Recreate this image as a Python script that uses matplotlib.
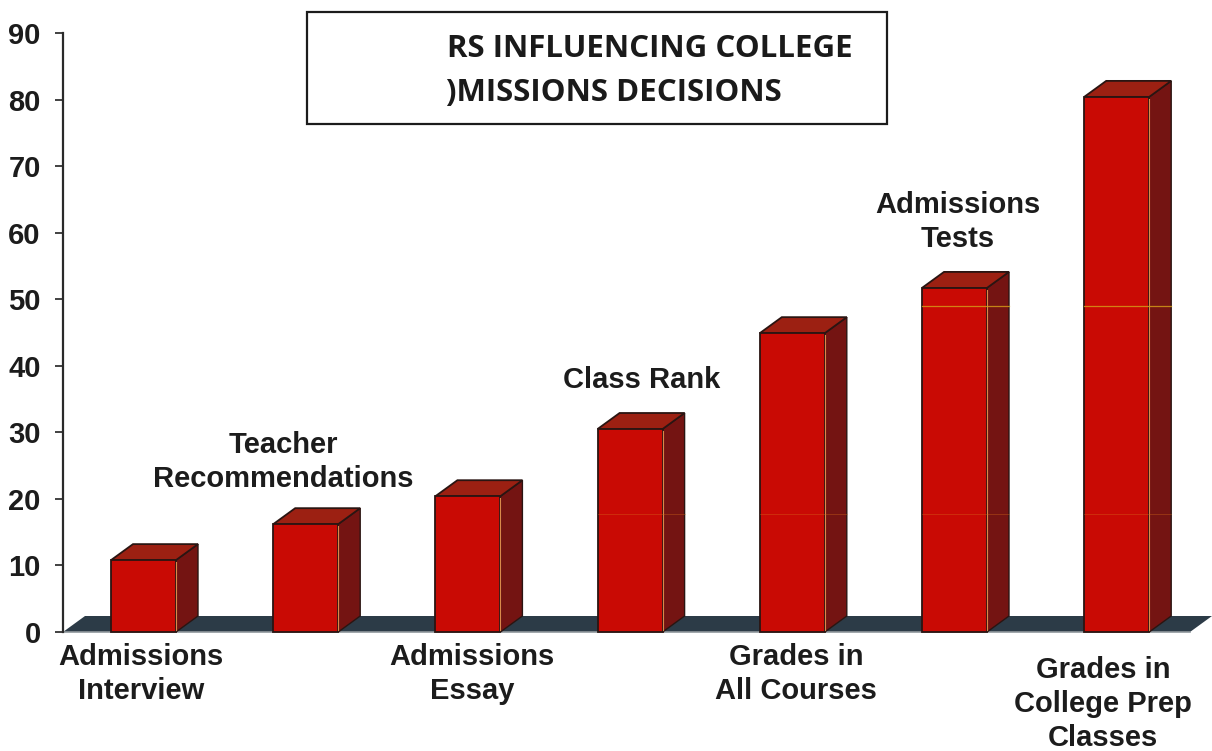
import matplotlib
matplotlib.use("Agg")
import matplotlib.pyplot as plt
from matplotlib.patches import Rectangle, Polygon

categories = ["Admissions\nInterview", "Teacher\nRecommendations", "Admissions\nEssay",
              "Class Rank", "Grades in\nAll Courses", "Admissions\nTests",
              "Grades in\nCollege Prep\nClasses"]
values = [10.8, 16.2, 20.4, 30.5, 44.9, 51.7, 80.4]
yticks = [0, 10, 20, 30, 40, 50, 60, 70, 80, 90]
title_lines = ["RS INFLUENCING COLLEGE", ")MISSIONS DECISIONS"]

W, H = 1212, 751
plt.rcParams["font.family"] = ["Liberation Sans", "DejaVu Sans"]
fig = plt.figure(figsize=(W / 100, H / 100), dpi=100, facecolor="white")

def fx(x): return x / W
def fy(y): return 1 - y / H

ax = fig.add_axes([fx(63), fy(632), fx(1212 - 63), (632 - 33) / H])
spacing = 162.2
ax.set_xlim(-(143.5 - 63) / spacing, (1212 - 143.5) / spacing)
ax.set_ylim(0, 90)
ax.patch.set_visible(False)
for s in ("top", "right", "bottom"):
    ax.spines[s].set_visible(False)
ax.spines["left"].set_color("#2a2a2a")
ax.spines["left"].set_linewidth(1.6)
ax.set_xticks([])
ax.set_yticks(yticks)
ax.tick_params(axis="y", length=6, width=1.3, color="#333333", pad=10,
               labelsize=21, labelcolor="#1c1c1c")
for t in ax.get_yticklabels():
    t.set_fontweight("bold")

dx = 22 / spacing
dy = 16 / (599 / 90)
half = 32.5 / spacing

# floor
xl, xr = ax.get_xlim()
floor_right = xl + (1190 - 63) / spacing
ax.add_patch(Polygon([(xl, 0), (floor_right, 0), (floor_right + dx, dy), (xl + dx, dy)],
                     closed=True, fc="#2c3b47", ec="none", zorder=2, clip_on=False))
ax.plot([xl, floor_right], [0, 0], color="#8f979c", lw=1.2, zorder=2.1, clip_on=False)

edge = "#2a1512"
for i, v in enumerate(values):
    l, r = i - half, i + half
    ax.add_patch(Polygon([(r, 0), (r + dx, dy), (r + dx, v + dy), (r, v)], closed=True,
                         fc="#741412", ec=edge, lw=1.0, zorder=3, clip_on=False))
    ax.add_patch(Polygon([(l, v), (r, v), (r + dx, v + dy), (l + dx, v + dy)], closed=True,
                         fc="#9c2012", ec=edge, lw=1.3, zorder=3, clip_on=False))
    ax.add_patch(Rectangle((l, 0), 2 * half, v, fc="#c90a04", ec=edge, lw=1.3, zorder=4,
                           clip_on=False))
    ax.plot([r, r], [0.3, v - 0.3], color="#d9894a", lw=0.8, zorder=5)

# faint yellow scan lines crossing the tallest bars
for i in (5, 6):
    ax.plot([i - half, i + half + dx], [49, 49], color="#d8a018", lw=0.9, alpha=0.8, zorder=6)
for i in (3, 4, 5, 6):
    ax.plot([i - half, i + half + dx], [17.7, 17.7], color="#d8701a", lw=0.6, alpha=0.4, zorder=6)

# category labels
label_pos = [(141, 674), (283.5, 462), (472, 674), (642, 380), (796, 674), (958, 222), (1103, 704)]
for txt, (x, y) in zip(categories, label_pos):
    fig.text(fx(x), fy(y), txt, ha="center", va="center", fontsize=21, fontweight="bold",
             color="#1c1c1c", linespacing=1.27 if txt.count("\n") == 2 else 1.3)

# title box
fig.add_artist(Rectangle((fx(307), fy(124)), 580 / W, 112 / H, transform=fig.transFigure,
                         fc="white", ec="#1c1c1c", lw=1.6, zorder=8))
for txt, x, y in zip(title_lines, (447, 446), (49, 93)):
    fig.text(fx(x), fy(y), txt, ha="left", va="center", fontsize=22.5, fontweight="bold",
             family=["Open Sans", "DejaVu Sans"], color="#1a1a1a", zorder=9)

fig.savefig("out.png", dpi=100, facecolor="white")
